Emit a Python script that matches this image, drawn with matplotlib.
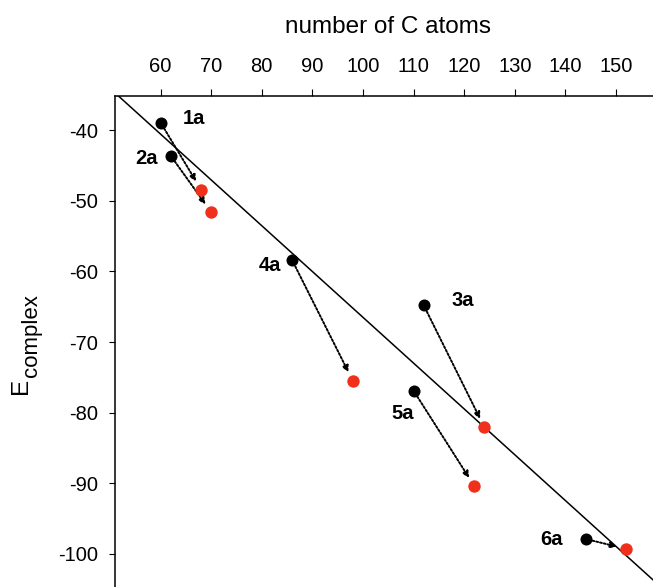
import matplotlib.pyplot as plt

plt.rcParams['font.family'] = ['Liberation Sans', 'DejaVu Sans']
plt.rcParams['axes.unicode_minus'] = False

# complexes: start (black) and end (red) points
labels = ['1a', '2a', '4a', '3a', '5a', '6a']
c_start = [60, 62, 86, 112, 110, 144]
e_start = [-38.9, -43.6, -58.4, -64.8, -76.9, -97.9]
c_end = [68, 70, 98, 124, 122, 152]
e_end = [-48.4, -51.6, -75.5, -82.1, -90.4, -99.3]

# label positions
label_x = [66.6, 57.3, 81.6, 119.7, 107.8, 137.2]
label_y = [-38.3, -44.0, -59.2, -64.1, -80.1, -98.0]

# fit line end points
fit_x = [50, 160]
fit_y = [-34.05, -105.44]

W, H = 653, 587
fig = plt.figure(figsize=(W/100, H/100), dpi=100)
ax = fig.add_axes([115/W, 0, 1 - 115/W, (H - 95.7)/H])

ax.plot(fit_x, fit_y, color='k', linewidth=1.1, zorder=1)

for xs, ys, xe, ye in zip(c_start, e_start, c_end, e_end):
    ax.annotate('', xy=(xe, ye), xytext=(xs, ys),
                arrowprops=dict(arrowstyle='-|>', linestyle=(0, (1, 1)), color='k',
                                linewidth=1.4, mutation_scale=9,
                                shrinkA=5, shrinkB=7), zorder=2)

ax.scatter(c_start, e_start, s=75, color='k', zorder=3, linewidths=0)
ax.scatter(c_end, e_end, s=80, color='#f0301a', zorder=3, linewidths=0)

for lab, lx, ly in zip(labels, label_x, label_y):
    ax.text(lx, ly, lab, fontsize=14.5, fontweight='bold', ha='center', va='center')

ax.set_xlim(51.0, 157.3)
ax.set_ylim(-104.7, -35.1)
ax.set_xticks(range(60, 151, 10))
ax.set_yticks(range(-100, -39, 10))

ax.xaxis.tick_top()
ax.tick_params(axis='x', direction='out', length=5, pad=9, labelsize=14.5)
ax.tick_params(axis='y', direction='out', length=4, pad=8, labelsize=14.5)
ax.spines['right'].set_visible(False)
ax.spines['bottom'].set_visible(False)
ax.spines['top'].set_linewidth(1.1)
ax.spines['left'].set_linewidth(1.1)

# axis titles
fig.text(388/W, 1 - 33/H, 'number of C atoms', fontsize=17.5, ha='center', va='baseline')
fig.text(27.3/W, 1 - 394/H, 'E', fontsize=17.5, rotation=90, rotation_mode='anchor',
         ha='left', va='baseline')
fig.text(37.3/W, 1 - 377/H, 'complex', fontsize=16, rotation=90, rotation_mode='anchor',
         ha='left', va='baseline')

fig.savefig('out.png', dpi=100)
